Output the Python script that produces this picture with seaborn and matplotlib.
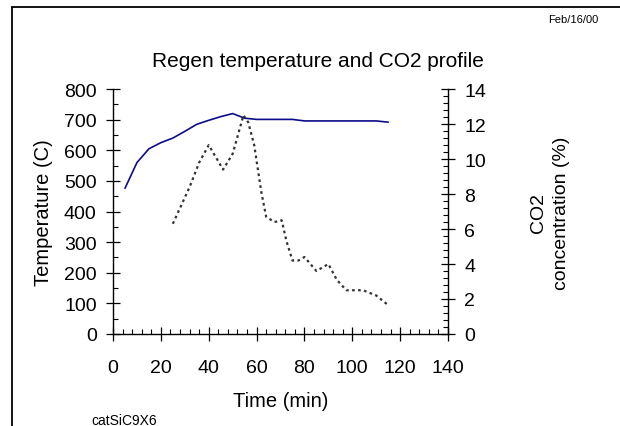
import matplotlib
matplotlib.use("Agg")
import matplotlib.pyplot as plt
from matplotlib.ticker import MultipleLocator
import seaborn as sns
import pandas as pd

# temperature profile (C)
tempo_t = [5, 10, 15, 20, 25, 30, 35, 40, 45, 50, 55, 60, 65, 70, 75, 80,
           85, 90, 95, 100, 105, 110, 115]
temperatura = [476, 560, 605, 625, 640, 662, 685, 698, 710, 720, 705, 701, 701,
               701, 701, 696, 696, 696, 696, 696, 696, 696, 692]

# CO2 concentration (%)
tempo_c = [25, 32, 36, 40, 46, 50, 54.5, 56.5, 59, 62, 64, 67.5, 70.5, 72.5,
           75, 77.5, 80, 85, 90, 93.5, 97.5, 104.5, 110, 115]
co2 = [6.3, 8.4, 9.8, 10.8, 9.4, 10.3, 12.5, 12.1, 10.8, 8.1, 6.7, 6.4, 6.5,
       5.3, 4.2, 4.2, 4.4, 3.6, 4.0, 3.1, 2.5, 2.5, 2.2, 1.65]

df_t = pd.DataFrame({"Tempo": tempo_t, "Temperatura": temperatura})
df_c = pd.DataFrame({"Tempo": tempo_c, "CO2": co2})

sns.set_style("white")
plt.rcParams["font.family"] = ["Liberation Sans", "DejaVu Sans"]
plt.rcParams["text.color"] = "black"
plt.rcParams["axes.labelcolor"] = "black"
plt.rcParams["xtick.color"] = "black"
plt.rcParams["ytick.color"] = "black"

fig = plt.figure(figsize=(6.2, 4.27), dpi=100)
ax = fig.add_axes([0.1823, 0.2155, 0.5403, 0.5735])
ax2 = ax.twinx()

sns.lineplot(data=df_t, x="Tempo", y="Temperatura", ax=ax, color="#0c0c88",
             linewidth=1.2)
sns.lineplot(data=df_c, x="Tempo", y="CO2", ax=ax2, color="#333333",
             linewidth=1.6, linestyle=(0, (1.2, 1.5)))

ax.set_xlim(0, 140)
ax.set_ylim(0, 800)
ax2.set_ylim(0, 14)
ax.xaxis.set_major_locator(MultipleLocator(20))
ax.xaxis.set_minor_locator(MultipleLocator(4))
ax.yaxis.set_major_locator(MultipleLocator(100))
ax.yaxis.set_minor_locator(MultipleLocator(50))
ax2.yaxis.set_major_locator(MultipleLocator(2))
ax2.yaxis.set_minor_locator(MultipleLocator(0.4))

for a in (ax, ax2):
    a.spines["top"].set_visible(False)
    for s in a.spines.values():
        s.set_linewidth(1.0)
        s.set_color("black")
    a.tick_params(which="major", direction="inout", length=9.5, width=0.9,
                  labelsize=14, colors="black", pad=7)
    a.tick_params(which="minor", direction="in", length=3.5, width=0.8)
ax.spines["right"].set_visible(False)
ax2.spines["left"].set_visible(False)
ax2.spines["bottom"].set_visible(False)
ax.tick_params(axis="y", which="both", left=True, right=False)
ax.tick_params(axis="x", which="both", bottom=True, top=False)
ax.tick_params(axis="x", which="major", pad=13)
ax2.tick_params(axis="y", which="both", left=False, right=True)

ax.set_xlabel("Time (min)", fontsize=14.5, labelpad=11)
ax.set_ylabel("Temperature (C)", fontsize=14.5, labelpad=8)
ax2.set_ylabel("")
fig.text(0.887, 0.5, "CO2\nconcentration (%)", rotation=90, fontsize=14,
         ha="center", va="center", multialignment="center", linespacing=1.45)

fig.text(0.513, 0.855, "Regen temperature and CO2 profile", fontsize=15,
         ha="center", va="center")
fig.text(0.965, 0.953, "Feb/16/00", fontsize=8, ha="right", va="center")
fig.text(0.148, 0.014, "catSiC9X6", fontsize=10, ha="left", va="center")

# page frame lines (top and left)
fig.add_artist(plt.Line2D([0.019, 1.0], [0.981, 0.981], color="black",
                          linewidth=1.3, transform=fig.transFigure))
fig.add_artist(plt.Line2D([0.019, 0.019], [0.0, 0.981], color="black",
                          linewidth=1.3, transform=fig.transFigure))

fig.savefig("out.png", dpi=100)
